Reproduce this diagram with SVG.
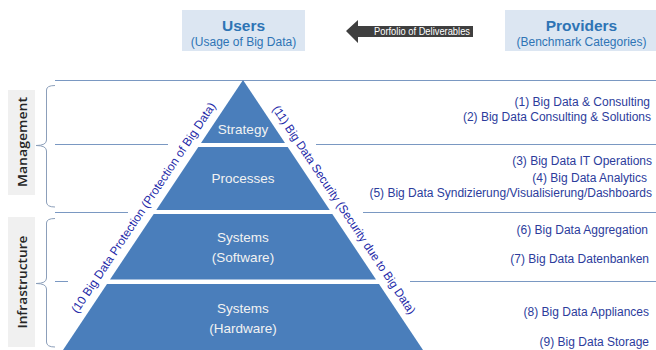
<svg xmlns="http://www.w3.org/2000/svg" width="656" height="350" viewBox="0 0 656 350">
  <style>
    .hdr { fill: #dce6f2; }
    .hdrTitle { font-family: "Liberation Sans", Arial, sans-serif; font-weight: bold; font-size: 15.5px; fill: #2e74b5; text-anchor: middle; }
    .hdrSub { font-family: "Liberation Sans", Arial, sans-serif; font-size: 12px; fill: #2e74b5; text-anchor: middle; }
    .side { fill: #f0f0f0; }
    .sideText { font-family: "Open Sans", "Noto Sans", sans-serif; font-weight: 600; font-size: 13px; fill: #262626; text-anchor: middle; }
    .band { fill: #4a7ebb; }
    .bandText { font-family: "Liberation Sans", Arial, sans-serif; font-size: 13.5px; fill: #f2f2f2; text-anchor: middle; }
    .diag { font-family: "Liberation Sans", Arial, sans-serif; font-size: 12px; fill: #2328a8; }
    .item { font-family: "Liberation Sans", Arial, sans-serif; font-size: 12px; fill: #2c3c9c; text-anchor: end; }
    .sep { stroke: #7a98c2; stroke-width: 1; fill: none; }
    .brace { stroke: #8c9fba; stroke-width: 1; fill: none; }
  </style>

  <rect width="656" height="350" fill="#ffffff"/>

  <g id="connectors">
    <line class="sep" x1="55" y1="80.5" x2="656" y2="80.5"/>
    <line class="sep" x1="55" y1="144.5" x2="168" y2="144.5"/>
    <line class="sep" x1="316" y1="144.5" x2="656" y2="144.5"/>
    <line class="sep" x1="55" y1="212.5" x2="128" y2="212.5"/>
    <line class="sep" x1="363" y1="212.5" x2="656" y2="212.5"/>
    <line class="sep" x1="55" y1="281.5" x2="68" y2="281.5"/>
    <line class="sep" x1="410" y1="281.5" x2="656" y2="281.5"/>
    <path class="brace" d="M55,85.5 Q46.5,85.5 46.5,90 L46.5,140 Q46.5,145.5 36,145.5 Q46.5,145.5 46.5,151 L46.5,202 Q46.5,207 55,207"/>
    <path class="brace" d="M55,218.5 Q46.5,218.5 46.5,223 L46.5,278 Q46.5,283.5 36,283.5 Q46.5,283.5 46.5,289 L46.5,342 Q46.5,347 55,347"/>
  </g>

  <g id="users">
    <rect class="hdr" x="182" y="10" width="123" height="41"/>
    <text class="hdrTitle" x="243.5" y="31">Users</text>
    <text class="hdrSub" x="243.5" y="46">(Usage of Big Data)</text>
  </g>

  <g id="providers">
    <rect class="hdr" x="505" y="10" width="151" height="41"/>
    <text class="hdrTitle" x="581.5" y="31">Providers</text>
    <text class="hdrSub" x="581.5" y="46">(Benchmark Categories)</text>
  </g>

  <g id="deliverables-arrow">
    <polygon points="346,31 358,20 358,26 473,26 473,37 358,37 358,43" fill="#3f3f3f"/>
    <text x="374" y="35" font-family="'Liberation Sans', Arial, sans-serif" font-size="10" fill="#ffffff" textLength="96" lengthAdjust="spacingAndGlyphs">Porfolio of Deliverables</text>
  </g>

  <g id="management">
    <rect class="side" x="8" y="90" width="27" height="105"/>
    <text class="sideText" transform="translate(26.5,142) rotate(-90)" textLength="90" lengthAdjust="spacingAndGlyphs">Management</text>
  </g>

  <g id="infrastructure">
    <rect class="side" x="8" y="217" width="27" height="130"/>
    <text class="sideText" transform="translate(26.5,282) rotate(-90)" textLength="93" lengthAdjust="spacingAndGlyphs">Infrastructure</text>
  </g>

  <g id="strategy">
    <polygon class="band" points="243,80 285,143 201,143"/>
    <text class="bandText" x="243" y="134">Strategy</text>
  </g>

  <g id="processes">
    <polygon class="band" points="198.3,147 287.7,147 329.7,210 156.3,210"/>
    <text class="bandText" x="243" y="183">Processes</text>
  </g>

  <g id="systems-software">
    <polygon class="band" points="153.7,214 332.3,214 376,279.5 110,279.5"/>
    <text class="bandText" x="243" y="242">Systems</text>
    <text class="bandText" x="243" y="262">(Software)</text>
  </g>

  <g id="systems-hardware">
    <polygon class="band" points="107,284 379,284 423,350 63,350"/>
    <text class="bandText" x="243" y="313">Systems</text>
    <text class="bandText" x="243" y="333">(Hardware)</text>
  </g>

  <g id="protection">
    <text class="diag" transform="translate(77.4,314) rotate(-56.31)" textLength="250" lengthAdjust="spacingAndGlyphs">(10 Big Data Protection (Protection of Big Data)</text>
  </g>

  <g id="security">
    <text class="diag" transform="translate(271.9,108.9) rotate(56.31)" textLength="248" lengthAdjust="spacingAndGlyphs">(11) Big Data Security (Security due to Big Data)</text>
  </g>

  <g id="categories">
    <text class="item" x="650" y="106">(1) Big Data &amp; Consulting</text>
    <text class="item" x="651" y="121">(2) Big Data Consulting &amp; Solutions</text>
    <text class="item" x="652" y="165">(3) Big Data IT Operations</text>
    <text class="item" x="647" y="182">(4) Big Data Analytics</text>
    <text class="item" x="652" y="197">(5) Big Data Syndizierung/Visualisierung/Dashboards</text>
    <text class="item" x="648" y="234">(6) Big Data Aggregation</text>
    <text class="item" x="649" y="263">(7) Big Data Datenbanken</text>
    <text class="item" x="649" y="316">(8) Big Data Appliances</text>
    <text class="item" x="649" y="346">(9) Big Data Storage</text>
  </g>
</svg>
